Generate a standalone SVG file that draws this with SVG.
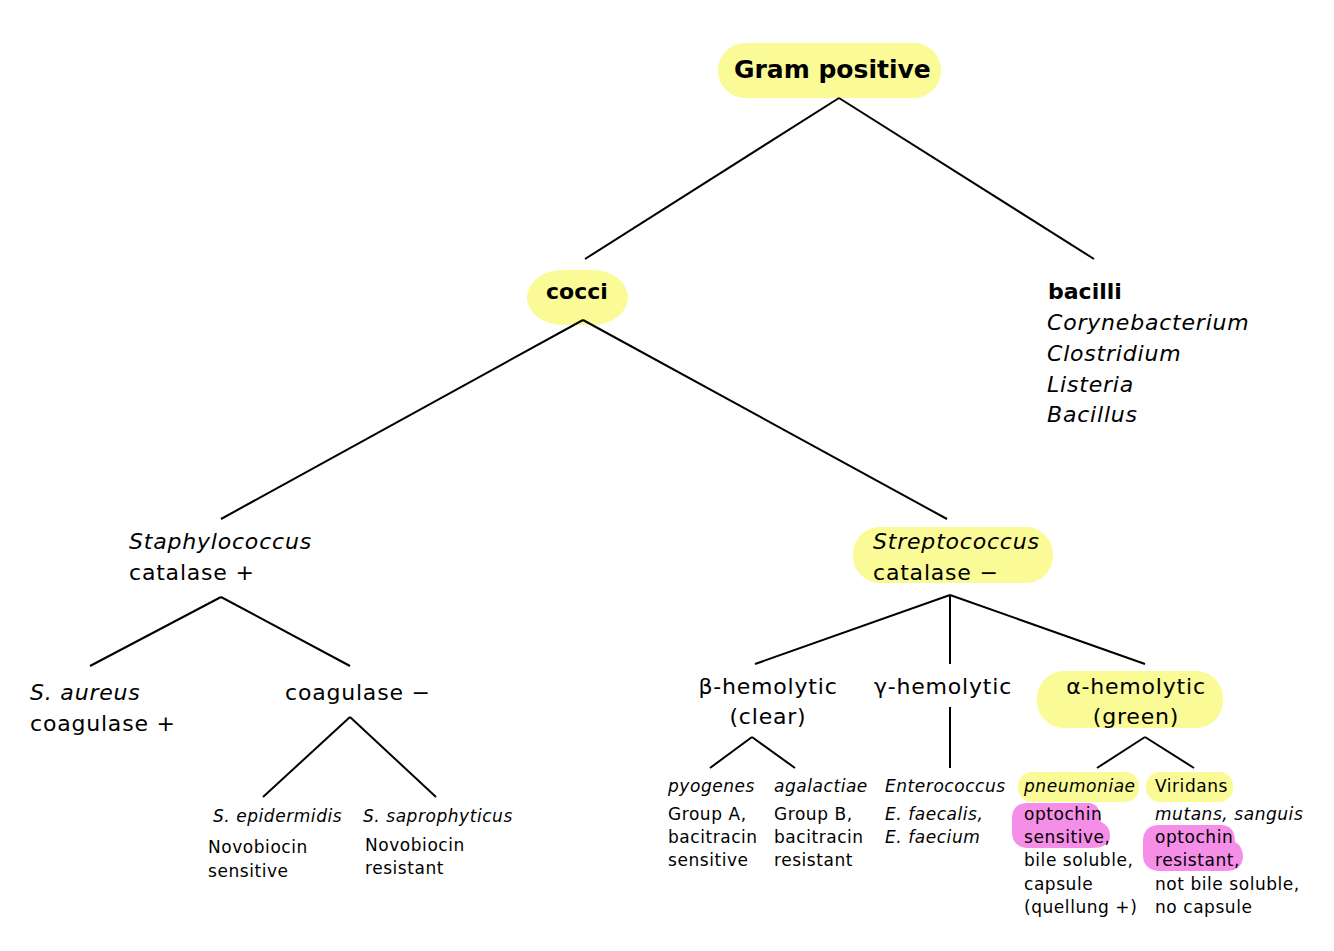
<svg xmlns="http://www.w3.org/2000/svg" width="1334" height="951" viewBox="0 0 1334 951">
<style>
text{font-family:"DejaVu Sans","Liberation Sans",sans-serif;fill:#000}
.b{font-weight:bold}
.i{font-style:italic}
.L{font-size:22px;letter-spacing:0.8px}
.s{font-size:17px;letter-spacing:0.55px}
.hy{fill:#fafa96}
.hm{fill:#f58ee6}
.c line{stroke:#000;stroke-width:2;fill:none}
</style>
<rect width="1334" height="951" fill="#fff"/>
<g id="gram-positive">
<rect class="hy" x="718" y="43" width="223" height="55" rx="27"/>
<text class="b" x="734" y="78" font-size="25">Gram positive</text>
</g>
<g id="cocci">
<rect class="hy" x="527" y="270" width="101" height="55" rx="36"/>
<text class="b" x="546" y="299" font-size="22">cocci</text>
</g>
<g id="bacilli">
<text class="b" x="1048" y="299" font-size="22">bacilli</text>
<text class="i L" x="1047" y="330">Corynebacterium</text>
<text class="i L" x="1047" y="361">Clostridium</text>
<text class="i L" x="1047" y="392">Listeria</text>
<text class="i L" x="1047" y="422">Bacillus</text>
</g>
<g id="staphylococcus">
<text class="i L" x="129" y="549">Staphylococcus</text>
<text class="L" x="129" y="580">catalase +</text>
</g>
<g id="streptococcus">
<rect class="hy" x="853" y="527" width="200" height="56" rx="27"/>
<text class="i L" x="873" y="549">Streptococcus</text>
<text class="L" x="873" y="580">catalase −</text>
</g>
<g id="s-aureus">
<text class="i L" x="30" y="700">S. aureus</text>
<text class="L" x="30" y="731">coagulase +</text>
</g>
<g id="coagulase-neg">
<text class="L" x="285" y="700">coagulase −</text>
</g>
<g id="s-epidermidis">
<text class="i s" x="213" y="822">S. epidermidis</text>
<text class="s" x="208" y="853">Novobiocin</text>
<text class="s" x="208" y="877">sensitive</text>
</g>
<g id="s-saprophyticus">
<text class="i s" x="363" y="822">S. saprophyticus</text>
<text class="s" x="365" y="851">Novobiocin</text>
<text class="s" x="365" y="874">resistant</text>
</g>
<g id="beta">
<text class="L" x="768" y="694" text-anchor="middle">β-hemolytic</text>
<text class="L" x="768" y="724" text-anchor="middle">(clear)</text>
</g>
<g id="gamma">
<text class="L" x="943" y="694" text-anchor="middle">γ-hemolytic</text>
</g>
<g id="alpha">
<rect class="hy" x="1037" y="671" width="186" height="57" rx="27"/>
<text class="L" x="1136" y="694" text-anchor="middle">α-hemolytic</text>
<text class="L" x="1136" y="724" text-anchor="middle">(green)</text>
</g>
<g id="pyogenes">
<text class="i s" x="668" y="792">pyogenes</text>
<text class="s" x="668" y="820">Group A,</text>
<text class="s" x="668" y="843">bacitracin</text>
<text class="s" x="668" y="866">sensitive</text>
</g>
<g id="agalactiae">
<text class="i s" x="774" y="792">agalactiae</text>
<text class="s" x="774" y="820">Group B,</text>
<text class="s" x="774" y="843">bacitracin</text>
<text class="s" x="774" y="866">resistant</text>
</g>
<g id="enterococcus">
<text class="i s" x="885" y="792">Enterococcus</text>
<text class="i s" x="885" y="820">E. faecalis,</text>
<text class="i s" x="885" y="843">E. faecium</text>
</g>
<g id="pneumoniae">
<rect class="hy" x="1018" y="772" width="121" height="30" rx="14"/>
<path class="hm" d="M1026,803 L1090,803 Q1101,805 1101,822 Q1111,826 1110,838 Q1107,848 1092,848 L1026,848 Q1012,846 1012,832 L1012,817 Q1013,804 1026,803 Z"/>
<text class="i s" x="1024" y="792">pneumoniae</text>
<text class="s" x="1024" y="820">optochin</text>
<text class="s" x="1024" y="843">sensitive,</text>
<text class="s" x="1024" y="866">bile soluble,</text>
<text class="s" x="1024" y="890">capsule</text>
<text class="s" x="1024" y="913">(quellung +)</text>
</g>
<g id="viridans">
<rect class="hy" x="1146" y="772" width="87" height="30" rx="14"/>
<path class="hm" d="M1158,825 L1222,825 Q1235,826 1235,842 Q1243,846 1243,858 Q1241,871 1226,871 L1158,871 Q1143,869 1143,855 L1143,840 Q1144,826 1158,825 Z"/>
<text class="s" x="1155" y="792">Viridans</text>
<text class="i s" x="1155" y="820">mutans, sanguis</text>
<text class="s" x="1155" y="843">optochin</text>
<text class="s" x="1155" y="866">resistant,</text>
<text class="s" x="1155" y="890">not bile soluble,</text>
<text class="s" x="1155" y="913">no capsule</text>
</g>
<g class="c" id="connectors">
<line x1="839" y1="98" x2="585" y2="259"/>
<line x1="839" y1="98" x2="1094" y2="259"/>
<line x1="583" y1="320" x2="221" y2="519"/>
<line x1="583" y1="320" x2="947" y2="519"/>
<line x1="221" y1="597" x2="90" y2="666"/>
<line x1="221" y1="597" x2="350" y2="666"/>
<line x1="350" y1="717" x2="263" y2="797"/>
<line x1="350" y1="717" x2="436" y2="797"/>
<line x1="950" y1="595" x2="755" y2="664"/>
<line x1="950" y1="595" x2="950" y2="664"/>
<line x1="950" y1="595" x2="1145" y2="664"/>
<line x1="752" y1="737" x2="710" y2="768"/>
<line x1="752" y1="737" x2="795" y2="768"/>
<line x1="950" y1="707" x2="950" y2="768"/>
<line x1="1145" y1="737" x2="1097" y2="768"/>
<line x1="1145" y1="737" x2="1194" y2="768"/>
</g>
</svg>
